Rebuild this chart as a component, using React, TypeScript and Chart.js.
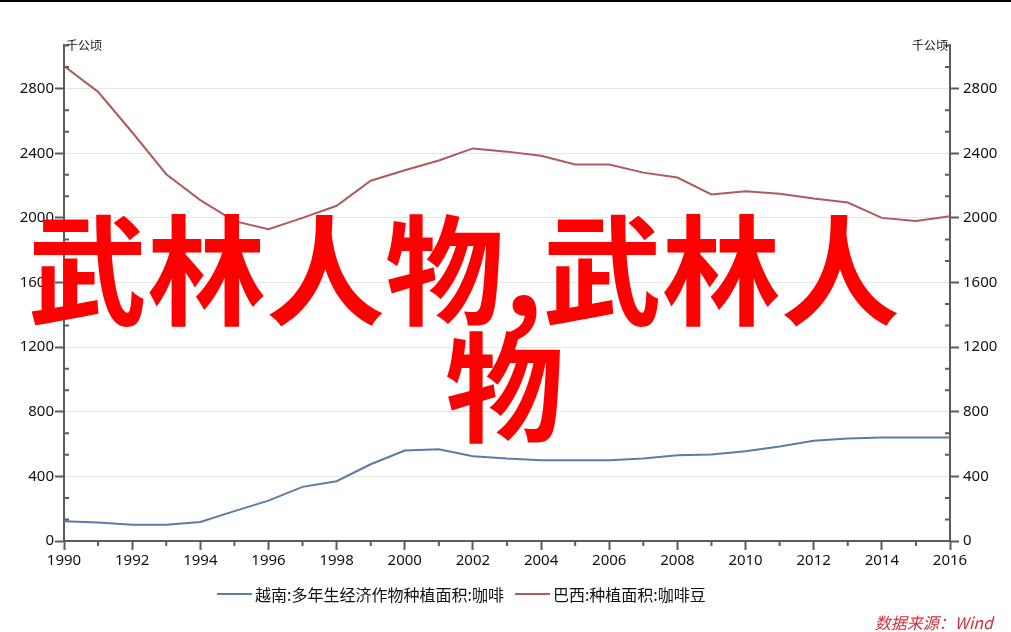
import { useEffect, useRef } from "react";
import { Chart, registerables } from "chart.js";

Chart.register(...registerables);

const years = [
  "1990", "1991", "1992", "1993", "1994", "1995", "1996", "1997", "1998",
  "1999", "2000", "2001", "2002", "2003", "2004", "2005", "2006", "2007",
  "2008", "2009", "2010", "2011", "2012", "2013", "2014", "2015", "2016",
];

// 千公顷
const vietnamArea = [
  122, 114, 101, 100, 118, 185, 250, 335, 370, 475, 560, 568, 525, 510, 500,
  500, 500, 510, 530, 535, 555, 585, 620, 635, 640, 640, 640,
];
const brazilArea = [
  2940, 2780, 2530, 2270, 2110, 1980, 1930, 2000, 2075, 2230, 2295, 2355, 2430,
  2410, 2385, 2330, 2330, 2280, 2250, 2145, 2165, 2150, 2120, 2095, 2000, 1980,
  2010,
];

const seriesNames = ["越南:多年生经济作物种植面积:咖啡", "巴西:种植面积:咖啡豆"];
const seriesColors = ["#5b7ca6", "#b05a5e"];
const yTicks = [0, 400, 800, 1200, 1600, 2000, 2400, 2800];
const unitLabel = "千公顷";
const yMax = 3070;
const minorStep = 400 / 3;

const axisColor = "#5c5c5c";
const fontFamily = '"Noto Sans", "Noto Sans CJK SC", sans-serif';

const axisExtras = {
  id: "axisExtras",
  afterDraw(chart: any) {
    const { ctx, chartArea, scales } = chart;
    const y = scales.y;
    const x = scales.x;
    ctx.save();
    ctx.strokeStyle = axisColor;
    ctx.lineWidth = 2;
    ctx.beginPath();
    for (let k = 1; k * minorStep < yMax - 1; k++) {
      if (k % 3 === 0) continue;
      const py = y.getPixelForValue(k * minorStep);
      ctx.moveTo(chartArea.left, py);
      ctx.lineTo(chartArea.left + 5, py);
      ctx.moveTo(chartArea.right - 5, py);
      ctx.lineTo(chartArea.right, py);
    }
    years.forEach((_, i) => {
      if (i % 2 === 1) {
        const px = x.getPixelForValue(i);
        ctx.moveTo(px, chartArea.bottom);
        ctx.lineTo(px, chartArea.bottom + 5);
      }
    });
    ctx.stroke();

    ctx.fillStyle = "#111";
    ctx.font = '12px "Noto Sans CJK SC", sans-serif';
    ctx.textBaseline = "middle";
    ctx.textAlign = "left";
    ctx.fillText(unitLabel, chartArea.left + 2, chartArea.top);
    ctx.textAlign = "right";
    ctx.fillText(unitLabel, chartArea.right - 2, chartArea.top);
    ctx.restore();
  },
};

const ChartPanel = () => {
  const canvasRef = useRef<HTMLCanvasElement | null>(null);
  const chartInstance = useRef<Chart | null>(null);

  useEffect(() => {
    if (!canvasRef.current) return;
    if (chartInstance.current) chartInstance.current.destroy();

    const setTicks = (s: any) => {
      s.ticks = yTicks.map((value) => ({ value }));
    };
    const tickFont = { family: fontFamily, size: 15 };

    chartInstance.current = new Chart(canvasRef.current, {
      type: "line",
      data: {
        labels: years,
        datasets: [
          {
            label: seriesNames[0],
            data: vietnamArea,
            borderColor: seriesColors[0],
            borderWidth: 2,
            pointRadius: 0,
            tension: 0,
            yAxisID: "y",
          },
          {
            label: seriesNames[1],
            data: brazilArea,
            borderColor: seriesColors[1],
            borderWidth: 2,
            pointRadius: 0,
            tension: 0,
            yAxisID: "y1",
          },
        ],
      },
      options: {
        animation: false,
        responsive: true,
        maintainAspectRatio: false,
        layout: { padding: { top: 45, bottom: 55, left: 0, right: 0 } },
        plugins: {
          tooltip: { enabled: false },
          legend: { display: false },
        },
        scales: {
          x: {
            type: "category",
            offset: false,
            border: { color: axisColor, width: 2 },
            grid: {
              drawOnChartArea: false,
              tickLength: 9,
              tickWidth: 2,
              tickColor: (c: any) => (c.index % 2 === 0 ? axisColor : "rgba(0,0,0,0)"),
            },
            ticks: {
              autoSkip: false,
              maxRotation: 0,
              padding: 2,
              color: "#111",
              font: tickFont,
              callback: (_v: any, i: number) => (i % 2 === 0 ? years[i] : ""),
            },
            afterFit: (s: any) => {
              s.height = 36;
            },
          },
          y: {
            position: "left",
            min: 0,
            max: yMax,
            border: { color: axisColor, width: 2 },
            grid: { color: "#e6e6e6", lineWidth: 1, tickColor: axisColor, tickWidth: 2, tickLength: 9 },
            ticks: { padding: 1, color: "#111", font: tickFont, callback: (v: any) => String(v) },
            afterBuildTicks: setTicks,
            afterFit: (s: any) => {
              s.width = 64;
            },
          },
          y1: {
            position: "right",
            min: 0,
            max: yMax,
            border: { color: axisColor, width: 2 },
            grid: { drawOnChartArea: false, tickColor: axisColor, tickWidth: 2, tickLength: 9 },
            ticks: { padding: 4, color: "#111", font: tickFont, callback: (v: any) => String(v) },
            afterBuildTicks: setTicks,
            afterFit: (s: any) => {
              s.width = 61;
            },
          },
        },
      },
      plugins: [axisExtras],
    });

    return () => {
      if (chartInstance.current) {
        chartInstance.current.destroy();
        chartInstance.current = null;
      }
    };
  }, []);

  return (
    <div style={{ position: "absolute", left: 0, top: 0, width: 1011, height: 632 }}>
      <canvas ref={canvasRef} />
    </div>
  );
};

const overlayText = {
  position: "absolute" as const,
  color: "#fe0000",
  fontFamily: '"Noto Sans CJK SC", sans-serif',
  fontWeight: 700,
  fontSize: 119,
  lineHeight: "119px",
  whiteSpace: "nowrap" as const,
};

export default function App() {
  return (
    <div
      style={{
        position: "fixed",
        left: 0,
        top: 0,
        width: 1011,
        height: 632,
        background: "#fff",
        overflow: "hidden",
      }}
    >
      <div style={{ position: "absolute", left: 0, top: 0, width: 1011, height: 2, background: "#000" }} />
      <ChartPanel />
      <div
        style={{
          position: "absolute",
          left: 217,
          top: 584,
          height: 20,
          display: "flex",
          alignItems: "center",
          fontFamily: '"Noto Sans CJK SC", sans-serif',
          fontSize: 16,
          lineHeight: "20px",
          color: "#111",
          whiteSpace: "nowrap",
        }}
      >
        {seriesNames.map((name, i) => (
          <div key={name} style={{ display: "flex", alignItems: "center", marginRight: 11 }}>
            <span style={{ display: "inline-block", width: 35, height: 2, background: seriesColors[i], marginRight: 3 }} />
            <span>{name}</span>
          </div>
        ))}
      </div>
      <div style={{ ...overlayText, left: 28, top: 205 }}>武林人物,武林人</div>
      <div style={{ ...overlayText, left: 445, top: 322 }}>物</div>
      <div
        style={{
          position: "absolute",
          right: 18,
          top: 612,
          color: "#d0303c",
          fontStyle: "italic",
          fontFamily: '"Noto Sans CJK SC", sans-serif',
          fontSize: 16,
          lineHeight: "20px",
        }}
      >
        数据来源：Wind
      </div>
    </div>
  );
}
